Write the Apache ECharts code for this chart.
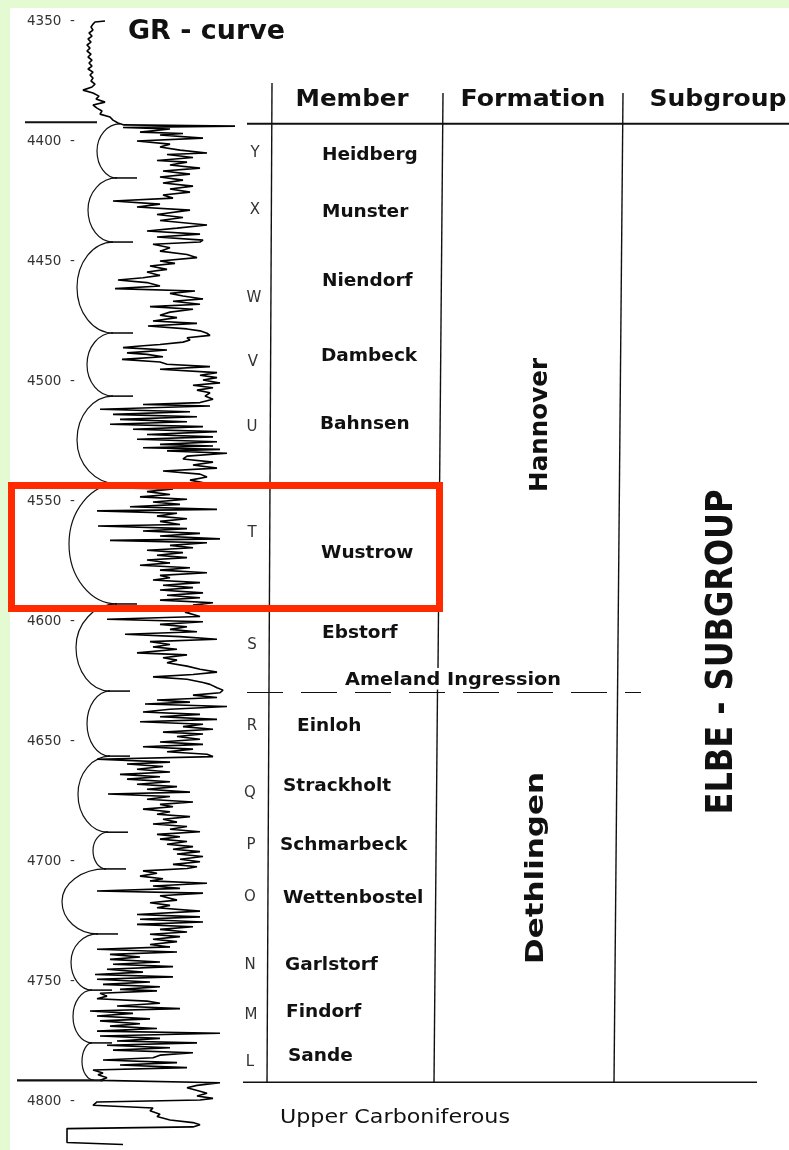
<!DOCTYPE html>
<html><head><meta charset="utf-8">
<script src="https://cdn.jsdelivr.net/npm/echarts@6/dist/echarts.min.js"></script>
<style>html,body{margin:0;padding:0;background:#e3fad3}#c{position:absolute;left:0;top:0;width:789px;height:1150px}</style>
</head><body><div id="c"></div>
<script>
// ---------------- DATA ----------------
const depthTicks = [4350, 4400, 4450, 4500, 4550, 4600, 4650, 4700, 4750, 4800];

// GR log: [depth (m), GR (display units)]
const grLog = [
[4350.0,105],[4350.4,95],[4351.3,93],[4352.5,91],[4353.8,93],[4355.0,89],[4356.3,92],[4357.5,88],[4358.8,91],[4360.0,87],
[4361.3,90],[4362.5,87],[4363.8,91],[4365.0,88],[4366.3,92],[4367.5,89],[4368.8,92],[4370.0,88],[4371.3,93],[4372.5,90],
[4373.8,93],[4375.0,91],[4376.3,95],[4377.5,92],[4378.8,83],[4380.0,93],[4381.3,99],[4382.5,96],[4383.8,105],[4385.0,93],
[4386.3,97],[4387.5,102],[4388.8,100],[4390.0,110],[4391.3,113],[4392.5,118],[4393.3,124],[4393.8,235],[4394.4,123],[4395.0,170],
[4396.3,140],[4396.9,183],[4397.5,160],[4398.8,203],[4400.0,137],[4401.3,170],[4402.5,160],[4403.8,180],[4405.0,207],[4405.6,167],
[4406.9,193],[4408.1,157],[4408.8,187],[4410.0,170],[4411.3,200],[4412.5,163],[4413.8,190],[4415.0,160],[4416.3,183],[4417.5,163],
[4418.8,193],[4420.0,170],[4421.3,190],[4422.5,163],[4423.8,173],[4425.0,113],[4426.3,160],[4427.5,137],[4428.8,190],[4430.6,157],
[4431.9,183],[4433.1,160],[4435.0,207],[4436.3,177],[4437.5,147],[4438.8,200],[4440.0,157],[4441.3,203],[4442.1,200],[4443.0,153],
[4444.5,170],[4445.9,160],[4447.3,187],[4448.6,197],[4450.0,160],[4451.0,175],[4452.1,150],[4453.5,167],[4454.6,147],[4456.0,160],
[4457.0,143],[4457.9,118],[4459.0,147],[4460.4,160],[4461.5,115],[4462.5,195],[4463.5,170],[4464.6,183],[4465.8,203],[4466.8,173],
[4468.0,200],[4469.0,150],[4470.1,193],[4471.3,170],[4472.6,160],[4473.6,177],[4475.0,153],[4476.0,197],[4477.1,148],[4478.3,187],
[4479.1,200],[4480.1,207],[4481.0,210],[4482.0,187],[4482.9,190],[4483.8,183],[4484.8,160],[4485.4,140],[4486.1,123],[4487.1,167],
[4488.3,127],[4488.9,147],[4489.9,163],[4491.0,122],[4492.1,160],[4493.0,167],[4494.0,210],[4495.1,160],[4496.5,217],[4497.6,200],
[4498.6,217],[4499.6,203],[4500.8,220],[4501.8,193],[4502.8,213],[4503.8,197],[4504.9,210],[4506.3,205],[4507.6,213],[4509.0,200],
[4509.8,143],[4510.4,210],[4511.8,100],[4512.8,190],[4513.9,113],[4514.9,197],[4516.0,120],[4517.0,187],[4518.0,110],[4519.0,203],
[4520.1,133],[4521.1,217],[4522.3,147],[4523.3,213],[4524.3,137],[4525.3,217],[4526.4,160],[4527.1,213],[4527.8,143],[4528.5,220],
[4529.1,167],[4530.1,227],[4531.3,187],[4532.5,183],[4533.8,213],[4535.0,193],[4536.3,217],[4537.5,163],[4538.8,200],[4540.0,207],
[4541.3,190],[4542.5,205],[4543.8,180],[4544.5,105],[4545.0,173],[4546.1,147],[4547.3,170],[4548.3,140],[4549.3,187],[4550.4,153],
[4551.4,180],[4552.4,130],[4553.5,217],[4554.1,97],[4555.1,177],[4556.3,157],[4557.4,187],[4558.5,160],[4559.8,180],[4560.4,98],
[4561.5,187],[4562.5,143],[4563.5,200],[4564.6,160],[4565.8,220],[4566.4,110],[4567.4,207],[4568.5,170],[4569.5,193],[4570.5,147],
[4571.5,183],[4572.6,157],[4573.6,187],[4574.6,147],[4575.8,170],[4576.8,140],[4577.8,190],[4578.8,160],[4579.9,207],[4581.0,160],
[4582.0,170],[4582.9,153],[4584.0,200],[4585.1,163],[4586.1,193],[4587.1,160],[4588.3,203],[4589.3,167],[4590.3,200],[4591.3,160],
[4592.4,213],[4593.4,193],[4595.0,205],[4596.3,185],[4598.1,200],[4599.3,107],[4600.3,203],[4601.4,160],[4602.4,187],[4603.5,170],
[4604.5,197],[4605.5,125],[4606.5,180],[4607.6,217],[4608.6,150],[4609.8,170],[4610.8,153],[4611.8,177],[4613.3,137],[4614.1,187],
[4615.3,163],[4616.3,177],[4617.4,167],[4618.8,187],[4620.1,200],[4621.3,217],[4622.3,193],[4623.3,153],[4624.3,187],[4625.6,203],
[4626.4,210],[4627.8,217],[4628.8,223],[4629.9,220],[4630.9,193],[4631.9,217],[4632.9,157],[4633.8,190],[4634.6,145],[4635.6,227],
[4636.8,170],[4637.9,143],[4638.9,200],[4639.9,160],[4641.0,217],[4642.0,140],[4643.0,203],[4644.0,183],[4645.1,213],[4646.3,163],
[4647.1,203],[4648.1,177],[4649.3,200],[4650.4,160],[4651.4,203],[4652.4,143],[4653.4,193],[4654.5,167],[4655.5,207],[4656.5,213],
[4657.6,97],[4658.8,170],[4659.6,127],[4660.6,163],[4661.8,137],[4662.9,170],[4663.9,120],[4664.9,160],[4665.9,127],[4667.0,170],
[4668.0,137],[4669.0,177],[4670.1,147],[4671.3,190],[4672.1,108],[4673.1,170],[4674.3,147],[4675.4,193],[4676.4,160],[4677.4,173],
[4678.4,143],[4679.5,170],[4680.5,157],[4681.5,190],[4682.6,163],[4683.8,177],[4684.6,153],[4685.6,187],[4686.8,170],[4687.8,200],
[4688.9,157],[4689.9,180],[4690.9,160],[4691.9,187],[4693.0,167],[4694.0,193],[4695.1,173],[4696.1,200],[4697.1,177],[4698.1,203],
[4699.3,180],[4700.3,200],[4701.4,173],[4702.4,197],[4703.1,187],[4704.1,143],[4705.1,157],[4706.3,140],[4707.4,163],[4708.3,150],
[4709.3,207],[4710.4,153],[4711.4,180],[4712.5,97],[4713.4,203],[4714.5,160],[4716.3,177],[4717.4,150],[4718.5,170],[4719.5,157],
[4720.9,200],[4722.3,137],[4723.3,200],[4724.3,140],[4725.4,203],[4726.4,137],[4727.4,193],[4728.5,160],[4729.6,187],[4730.5,150],
[4731.5,180],[4732.6,153],[4733.6,177],[4734.8,150],[4735.8,170],[4736.8,97],[4737.9,177],[4738.9,110],[4740.0,140],[4741.0,110],
[4742.1,160],[4743.0,113],[4744.0,173],[4745.1,107],[4746.3,143],[4747.3,95],[4748.3,173],[4749.3,97],[4750.4,150],[4751.4,103],
[4752.4,160],[4753.5,120],[4754.1,157],[4755.1,100],[4756.3,107],[4757.4,97],[4758.4,147],[4759.3,160],[4760.4,117],[4761.5,180],
[4762.5,90],[4763.5,133],[4764.6,97],[4765.8,150],[4766.6,100],[4767.8,140],[4768.8,110],[4769.8,157],[4770.9,97],[4771.8,220],
[4772.9,100],[4773.9,160],[4775.0,117],[4775.8,197],[4776.8,107],[4777.8,170],[4778.8,113],[4779.9,193],[4780.9,160],[4782.0,153],
[4782.9,103],[4784.0,177],[4785.0,120],[4786.1,187],[4787.1,93],[4788.3,103],[4789.1,98],[4790.3,107],[4791.4,100],[4792.4,220],
[4793.5,197],[4794.5,187],[4795.9,200],[4796.8,207],[4797.9,197],[4798.9,213],[4799.6,200],[4800.4,97],[4801.8,93],[4802.9,153],
[4804.1,150],[4805.5,160],[4806.5,157],[4807.9,170],[4809.0,193],[4809.9,200],[4810.8,193],[4811.4,193],[4811.5,67],[4817.3,67],
[4818.0,67],[4818.1,123]
];

// cycle boundaries (depth) with the GR value of the cusp, and inner (min) GR of each cycle arc
const boundaryDepth = [4392.9, 4415.4, 4442.1, 4480.0, 4506.3, 4542.9, 4592.9, 4629.2, 4656.3, 4688.0, 4703.3, 4730.4, 4753.8, 4775.8, 4791.3];
const boundaryCuspGR = [120, 117, 113, 113, 113, 118, 117, 110, 110, 108, 106, 98, 92, 92, 94];
const cycleInnerGR = [97, 88, 77, 87, 77, 69, 76, 87, 78, 93, 62, 71, 73, 82];

const memberLetters = ['Y','X','W','V','U','T','S','R','Q','P','O','N','M','L'];
const memberNames = ['Heidberg','Munster','Niendorf','Dambeck','Bahnsen','Wustrow','Ebstorf','Einloh','Strackholt','Schmarbeck','Wettenbostel','Garlstorf','Findorf','Sande'];
const memberNameDepth = [4405.8, 4429.6, 4458.3, 4489.6, 4517.9, 4571.7, 4605.0, 4643.8, 4668.8, 4693.3, 4715.4, 4743.3, 4762.9, 4781.3];
const memberLetterDepth = [4405.0, 4428.8, 4465.4, 4492.1, 4519.2, 4563.3, 4610.0, 4643.8, 4671.7, 4693.3, 4715.0, 4743.3, 4764.2, 4783.8];

const formationNames = ['Hannover', 'Dethlingen'];
const formationLabelDepth = [4518.3, 4702.9];
const subgroupName = 'ELBE - SUBGROUP';
const subgroupLabelDepth = 4612.9;
const ingressionName = 'Ameland Ingression';
const ingressionDepth = 4629.8;
const ingressionLabelDepth = 4624.6;
const underlyingName = 'Upper Carboniferous';
const underlyingLabelDepth = 4807.1;
const topDepth = 4392.8;
const baseDepth = 4791.8;
const highlightDepth = [4543.5, 4594.8];
const headers = ['Member', 'Formation', 'Subgroup'];
const titleText = 'GR - curve';

// ---------------- LAYOUT (pixels) ----------------
const L = {
  memberNameX: [322,322,322,321,320,321,322,297,283,280,283,285,286,288],
  letterX: [255,255,254,253,252,252,252,252,250,251,250,250,251,250],
  headerX: [352, 533, 718], headerY: 100, headerW: [113, 145, 137],
  formationX: [541, 537], formationLen: [134, 192],
  subgroupX: 722, subgroupLen: 325,
};

const chart = echarts.init(document.getElementById('c'), null, {renderer: 'canvas', width: 789, height: 1150});

chart.setOption({
  animation: false,
  backgroundColor: '#e3fad3',
  grid: {left: 0, top: 21, width: 789, height: 1080},
  xAxis: {type: 'value', min: 0, max: 789, show: false},
  yAxis: {
    type: 'value', inverse: true, min: depthTicks[0], max: depthTicks[depthTicks.length - 1], interval: 50,
    axisLine: {show: false}, axisTick: {show: false}, splitLine: {show: false},
    axisLabel: {inside: true, margin: 27, formatter: v => v + '  -', color: '#333', fontFamily: 'DejaVu Sans', fontSize: 13.5}
  },
  series: [
    {
      type: 'line', data: grLog.map(p => [p[1], p[0]]), showSymbol: false, clip: false,
      lineStyle: {color: '#000', width: 1.6}, z: 3
    },
    {
      type: 'custom', clip: false, z: 3,
      data: cycleInnerGR.map((g, i) => [boundaryDepth[i], boundaryDepth[i + 1], g, boundaryCuspGR[i], boundaryCuspGR[i + 1]]),
      encode: {x: [2, 3], y: [0, 1]},
      renderItem: (params, api) => {
        const t = api.value(0), b = api.value(1), inner = api.value(2), c1 = api.value(3), c2 = api.value(4);
        const pT = api.coord([c1, t]), pB = api.coord([c2, b]), pL = api.coord([inner, (t + b) / 2]);
        const yT = pT[1], yB = pB[1], yM = (yT + yB) / 2, xl = pL[0], ry = (yB - yT) / 2, k = 0.5523;
        const d = `M${pT[0]} ${yT} C${pT[0] - k * (pT[0] - xl)} ${yT} ${xl} ${yM - k * ry} ${xl} ${yM} ` +
                  `C${xl} ${yM + k * ry} ${pB[0] - k * (pB[0] - xl)} ${yB} ${pB[0]} ${yB}`;
        const children = [{type: 'path', shape: {pathData: d}, style: {fill: 'none', stroke: '#111', lineWidth: 1.2}}];
        if (params.dataIndex < cycleInnerGR.length - 1) {
          children.push({type: 'line', shape: {x1: pB[0] - 2, y1: yB, x2: pB[0] + 20, y2: yB}, style: {stroke: '#111', lineWidth: 1.6}});
        }
        return {type: 'group', children};
      }
    }
  ]
});

// ---------------- annotations via the chart's own scale ----------------
const Y = d => chart.convertToPixel({gridIndex: 0}, [0, d])[1];
const mctx = document.createElement('canvas').getContext('2d');
function fit(text, font, target) { mctx.font = font; const w = mctx.measureText(text).width; return target ? target / w : 1; }
function txt(text, x, y, font, o) {
  o = o || {};
  return {type: 'text', x, y, rotation: o.rot || 0, scaleX: o.w ? fit(text, font, o.w) : 1, z: 20, silent: true,
    style: {text, font, fill: o.fill || '#111', align: o.align || 'center', verticalAlign: 'middle'}};
}
function ln(x1, y1, x2, y2, w, dash) {
  return {type: 'line', z: 15, silent: true, shape: {x1, y1, x2, y2}, style: {stroke: '#111', lineWidth: w, lineDash: dash || null}};
}
const g = [];
g.push({type: 'rect', z: -10, silent: true, shape: {x: 10, y: 8, width: 779, height: 1142}, style: {fill: '#ffffff'}});
// horizontal lines
g.push(ln(25, Y(topDepth) - 1.5, 97, Y(topDepth) - 1.5, 2));
g.push(ln(247, Y(topDepth), 789, Y(topDepth), 2));
g.push(ln(17, Y(baseDepth) - 1, 103, Y(baseDepth) - 1, 2.2));
g.push(ln(243, Y(baseDepth) + 1, 757, Y(baseDepth) + 1, 1.6));
g.push(ln(247, Y(ingressionDepth), 641, Y(ingressionDepth), 1.2, [36, 18]));
// vertical column lines
const yb = Y(baseDepth) + 1;
g.push(ln(272, 83, 267, yb, 1.4));
g.push(ln(443, 93, 438, Y(ingressionLabelDepth) - 12, 1.4));
g.push(ln(437.5, Y(ingressionDepth) - 3, 434, yb, 1.4));
g.push(ln(623, 93, 614, yb, 1.4));
// title and headers
g.push(txt(titleText, 128, 32, 'bold 27px "DejaVu Sans"', {align: 'left', w: 157}));
headers.forEach((h, i) => g.push(txt(h, L.headerX[i], L.headerY, 'bold 23px "DejaVu Sans"', {w: L.headerW[i]})));
// members
memberNames.forEach((n, i) => g.push(txt(n, L.memberNameX[i], Y(memberNameDepth[i]), 'bold 18.5px "DejaVu Sans"', {align: 'left'})));
memberLetters.forEach((n, i) => g.push(txt(n, L.letterX[i], Y(memberLetterDepth[i]), '15px "DejaVu Sans"', {fill: '#333'})));
g.push(txt(ingressionName, 345, Y(ingressionLabelDepth), 'bold 18.5px "DejaVu Sans"', {align: 'left', w: 216}));
g.push(txt(underlyingName, 280, Y(underlyingLabelDepth), '20px "DejaVu Sans"', {align: 'left', w: 230}));
// formations and subgroup (vertical)
formationNames.forEach((n, i) => g.push(txt(n, L.formationX[i], Y(formationLabelDepth[i]), 'bold 24px "DejaVu Sans"', {rot: Math.PI / 2, w: L.formationLen[i]})));
g.push(txt(subgroupName, L.subgroupX, Y(subgroupLabelDepth), 'bold 38px "DejaVu Sans"', {rot: Math.PI / 2, w: L.subgroupLen}));
// highlight box around the Wustrow member
const hy1 = Y(highlightDepth[0]), hy2 = Y(highlightDepth[1]);
g.push({type: 'rect', z: 25, silent: true, shape: {x: 11.5, y: hy1, width: 428, height: hy2 - hy1}, style: {fill: 'none', stroke: '#ff2a00', lineWidth: 7}});

chart.setOption({graphic: {elements: g}});
</script>
</body></html>
